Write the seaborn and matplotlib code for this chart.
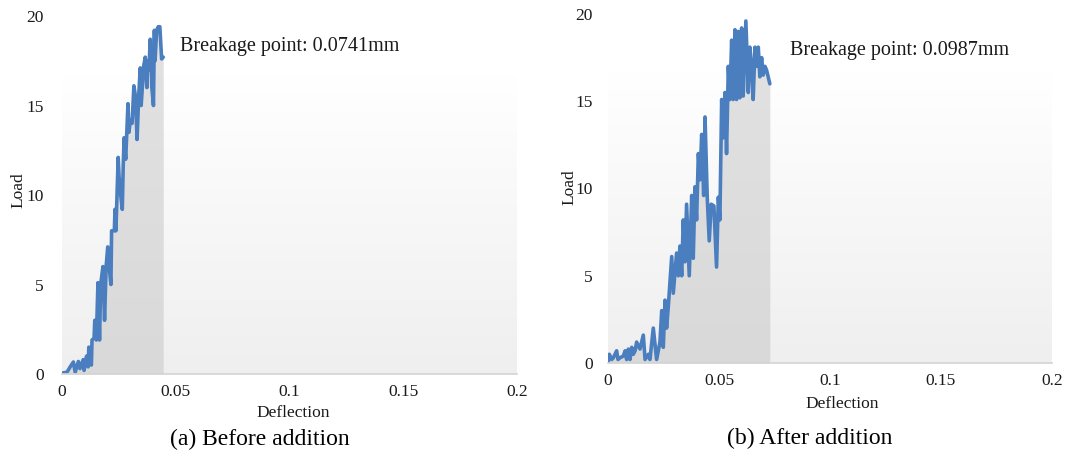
import numpy as np
import pandas as pd
import matplotlib
matplotlib.use("Agg")
import matplotlib.pyplot as plt
import seaborn as sns

sns.set_theme(style="white")
plt.rcParams["font.family"] = ["Liberation Serif", "DejaVu Serif"]

# ---- data: load vs. deflection ----
defl_a = [0.0, 0.0022, 0.0036, 0.0050, 0.0058, 0.0072, 0.0079, 0.0093, 0.0097, 0.0108,
          0.0115, 0.0118, 0.0129, 0.0132, 0.0141, 0.0144, 0.0151, 0.0158, 0.0165, 0.0170,
          0.0180, 0.0187, 0.0194, 0.0201, 0.0208, 0.0215, 0.0218, 0.0230, 0.0233, 0.0237,
          0.0247, 0.0251, 0.0258, 0.0265, 0.0269, 0.0273, 0.0280, 0.0290, 0.0294, 0.0301,
          0.0308, 0.0316, 0.0323, 0.0330, 0.0337, 0.0344, 0.0348, 0.0359, 0.0366, 0.0373,
          0.0377, 0.0382, 0.0388, 0.0395, 0.0402, 0.0406, 0.0409, 0.0416, 0.0423, 0.0430,
          0.0438, 0.0445]
load_a = [0.05, 0.1, 0.4, 0.67, 0.1, 0.7, 0.3, 0.8, 0.2, 1.0,
          0.4, 1.5, 0.5, 1.9, 2.0, 3.0, 1.9, 5.1, 1.9, 5.0,
          6.0, 3.0, 6.0, 7.1, 5.9, 5.0, 8.0, 8.0, 9.2, 8.0,
          12.1, 11.0, 10.0, 9.2, 11.6, 13.2, 12.0, 15.1, 13.5, 14.2,
          14.0, 16.1, 15.5, 13.1, 15.5, 17.1, 15.0, 17.2, 17.7, 16.0,
          17.5, 17.0, 18.7, 16.0, 15.0, 19.2, 17.5, 19.2, 19.4, 19.4,
          17.6, 17.7]

defl_b = [0.0, 0.0006, 0.0017, 0.0024, 0.0039, 0.0045, 0.0054, 0.0069, 0.0077, 0.0084,
          0.0092, 0.0099, 0.0107, 0.0114, 0.0122, 0.0129, 0.0144, 0.0159, 0.0167, 0.0182,
          0.0189, 0.0204, 0.0219, 0.0234, 0.0242, 0.0249, 0.0257, 0.0264, 0.0272, 0.0287,
          0.0294, 0.0309, 0.0317, 0.0324, 0.0332, 0.0339, 0.0347, 0.0354, 0.0366, 0.0377,
          0.0384, 0.0392, 0.0399, 0.0407, 0.0414, 0.0422, 0.0431, 0.0437, 0.0447, 0.0456,
          0.0465, 0.0477, 0.0489, 0.0497, 0.0504, 0.0512, 0.0519, 0.0527, 0.0534, 0.0542,
          0.0549, 0.0557, 0.0564, 0.0572, 0.0579, 0.0587, 0.0594, 0.0602, 0.0609, 0.0621,
          0.0632, 0.0639, 0.0647, 0.0654, 0.0662, 0.0669, 0.0677, 0.0684, 0.0692, 0.0699,
          0.0707, 0.0714, 0.0729]
load_b = [0.0, 0.5, 0.2, 0.3, 0.7, 0.2, 0.3, 0.4, 0.7, 0.2,
          0.8, 0.2, 0.9, 0.5, 0.7, 1.2, 0.8, 1.6, 0.2, 0.5,
          0.2, 2.0, 0.2, 1.2, 3.0, 0.9, 3.6, 2.0, 3.3, 6.1,
          4.0, 6.3, 5.0, 6.7, 5.0, 8.2, 5.8, 9.1, 5.0, 9.6,
          6.0, 10.1, 8.2, 12.0, 10.5, 13.1, 9.6, 14.1, 9.5, 7.0,
          9.1, 9.0, 5.5, 9.5, 8.2, 15.1, 12.9, 15.5, 12.0, 17.0,
          15.1, 18.5, 15.1, 19.1, 15.1, 19.0, 15.2, 19.2, 15.3, 19.6,
          15.5, 18.1, 17.0, 15.1, 18.1, 17.0, 18.1, 16.4, 17.5, 16.5,
          17.0, 16.8, 16.0]

panels = [
    dict(defl=defl_a, load=load_a, note="Breakage point: 0.0741mm",
         caption="(a) Before addition",
         rect=[62 / 1066, 1 - 374 / 461, 455 / 1066, 358 / 461], ypad=13,
         note_xy=(180 / 1066, 1 - 47 / 461), ylab_x=18 / 1066, ylab_y=1 - 190 / 461,
         xlab_x=293 / 1066, xlab_y=1 - 413 / 461, cap_x=260 / 1066, cap_y=1 - 439 / 461),
    dict(defl=defl_b, load=load_b, note="Breakage point: 0.0987mm",
         caption="(b) After addition",
         rect=[608 / 1066, 1 - 363 / 461, 444 / 1066, 349 / 461], ypad=11,
         note_xy=(790 / 1066, 1 - 51 / 461), ylab_x=569 / 1066, ylab_y=1 - 187 / 461,
         xlab_x=842 / 1066, xlab_y=1 - 404 / 461, cap_x=810 / 1066, cap_y=1 - 438 / 461),
]

line_color = "#4a7ebf"
fig = plt.figure(figsize=(10.66, 4.61), dpi=100)

for p in panels:
    ax = fig.add_axes(p["rect"])
    df = pd.DataFrame({"Deflection": p["defl"], "Load": p["load"]})

    # plot-area gradient: white at the top fading to light grey at the bottom
    grad = np.linspace(1.0, 0.0, 256).reshape(-1, 1)
    top, bot = np.array([1.0, 1.0, 1.0]), np.array([0.937, 0.937, 0.937])
    img = top * grad[..., None] + bot * (1 - grad[..., None])
    ax.imshow(img, extent=[0, 0.2, 0, 16.7], aspect="auto", zorder=0,
              interpolation="bilinear")

    ax.fill_between(df["Deflection"], df["Load"], color="#c4c4c4", alpha=0.5,
                    linewidth=0, zorder=1)
    sns.lineplot(data=df, x="Deflection", y="Load", ax=ax, color=line_color,
                 linewidth=2.6, sort=False, estimator=None, zorder=2)

    ax.set_xlim(0, 0.2)
    ax.set_ylim(0, 20)
    ax.set_xticks([0, 0.05, 0.1, 0.15, 0.2])
    ax.set_xticklabels(["0", "0.05", "0.1", "0.15", "0.2"])
    ax.set_yticks([0, 5, 10, 15, 20])
    ax.tick_params(axis="both", length=0, labelsize=12.5, colors="#1a1a1a")
    ax.tick_params(axis="y", pad=p["ypad"])
    ax.tick_params(axis="x", pad=7)
    ax.set_xlabel("")
    ax.set_ylabel("")
    for side in ("top", "right", "left"):
        ax.spines[side].set_visible(False)
    ax.spines["bottom"].set_color("#d4d4d4")
    ax.spines["bottom"].set_linewidth(1.2)
    ax.set_facecolor("none")

    fig.text(p["note_xy"][0], p["note_xy"][1], p["note"], fontsize=14.5,
             ha="left", va="center", color="#1a1a1a")
    fig.text(p["ylab_x"], p["ylab_y"], "Load", rotation=90, fontsize=12.5,
             ha="center", va="center", color="#1a1a1a")
    fig.text(p["xlab_x"], p["xlab_y"], "Deflection", fontsize=12.5,
             ha="center", va="center", color="#1a1a1a")
    fig.text(p["cap_x"], p["cap_y"], p["caption"], fontsize=17,
             ha="center", va="center", color="#000000")

fig.savefig("out.png", dpi=100, facecolor="white")
